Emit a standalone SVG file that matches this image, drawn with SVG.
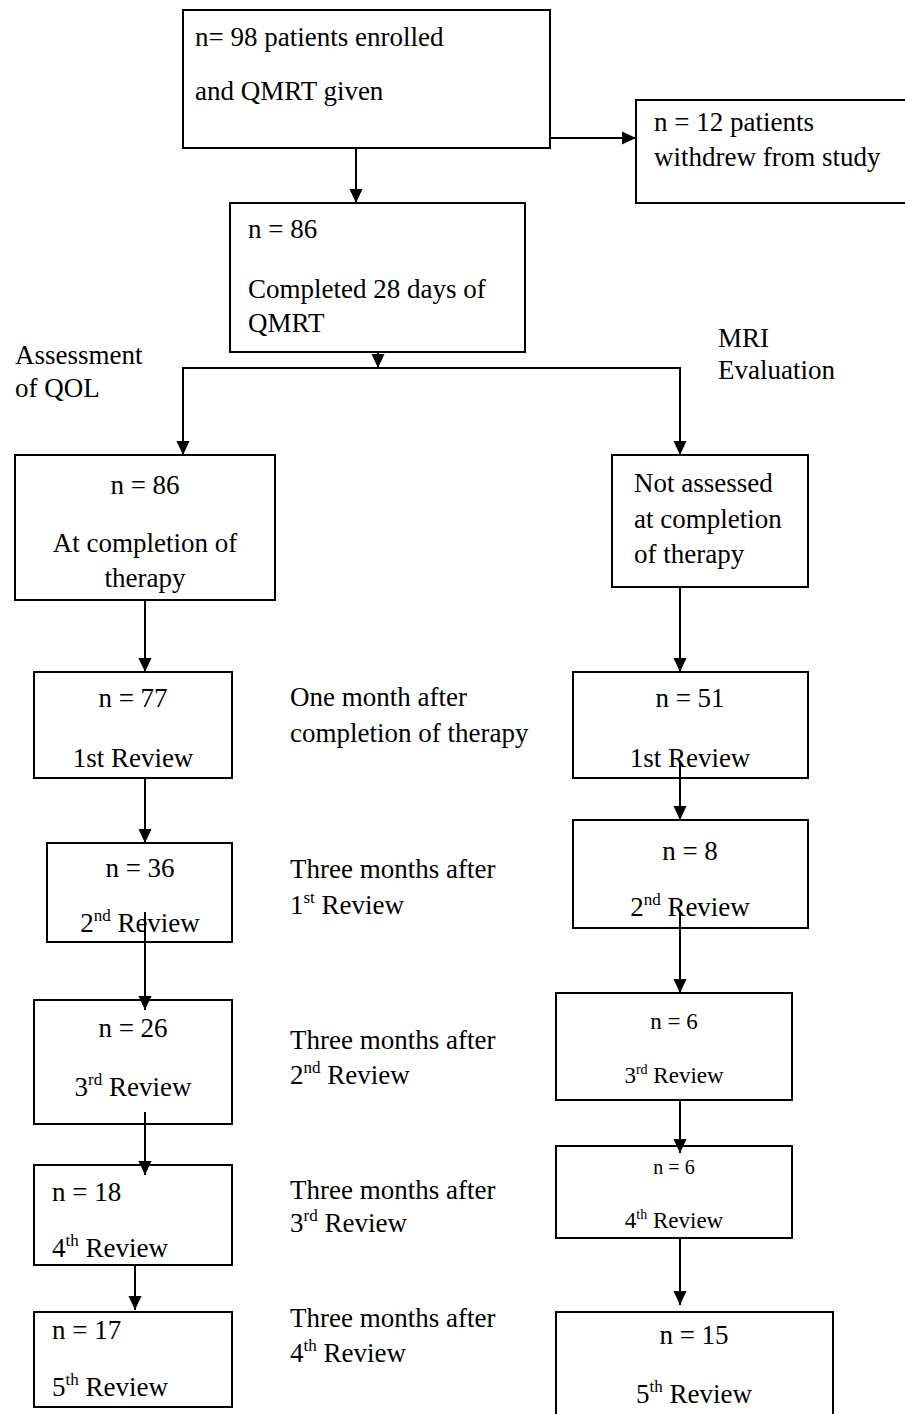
<svg xmlns="http://www.w3.org/2000/svg" width="905" height="1414" viewBox="0 0 905 1414">
<style>
.box{fill:#fff;stroke:#000;stroke-width:2}
.t{font-family:"Liberation Serif","Times New Roman",serif;font-size:27px;fill:#000}
.c{text-anchor:middle}
.sm{font-size:23px}
.ln{stroke:#000;stroke-width:2;fill:none}
</style>
<defs>
<marker id="ah" markerWidth="14" markerHeight="14" refX="15" refY="7" orient="auto" markerUnits="userSpaceOnUse" viewBox="0 0 15 14">
<path d="M0,0 L15,7 L0,14 Z" fill="#000"/>
</marker>
</defs>
<rect width="905" height="1414" fill="#fff"/>
<g id="connectors">
<line class="ln" x1="356" y1="148" x2="356" y2="203" marker-end="url(#ah)"/>
<line class="ln" x1="550" y1="138" x2="636" y2="138" marker-end="url(#ah)"/>
<line class="ln" x1="378" y1="352" x2="378" y2="368" marker-end="url(#ah)"/>
<polyline class="ln" points="183,455 183,368 680,368 680,455"/>
<line class="ln" x1="183" y1="440" x2="183" y2="455" marker-end="url(#ah)"/>
<line class="ln" x1="680" y1="440" x2="680" y2="455" marker-end="url(#ah)"/>
<line class="ln" x1="145" y1="600" x2="145" y2="672" marker-end="url(#ah)"/>
<line class="ln" x1="680" y1="587" x2="680" y2="672" marker-end="url(#ah)"/>
<line class="ln" x1="145" y1="778" x2="145" y2="843" marker-end="url(#ah)"/>
</g>
<g id="n1"><rect class="box" x="183" y="10" width="367" height="138"/>
<text class="t" x="195" y="46">n= 98 patients enrolled</text>
<text class="t" x="195" y="100">and QMRT given</text></g>
<g id="n2"><rect class="box" x="636" y="100" width="280" height="103"/>
<text class="t" x="654" y="131">n = 12 patients</text>
<text class="t" x="654" y="166">withdrew from study</text></g>
<g id="n3"><rect class="box" x="230" y="203" width="295" height="149"/>
<text class="t" x="248" y="238">n = 86</text>
<text class="t" x="248" y="298">Completed 28 days of</text>
<text class="t" x="248" y="332">QMRT</text></g>
<g id="lbl-qol"><text class="t" x="15" y="364">Assessment</text><text class="t" x="15" y="397">of QOL</text></g>
<g id="lbl-mri"><text class="t" x="718" y="347">MRI</text><text class="t" x="718" y="379">Evaluation</text></g>
<g id="n4"><rect class="box" x="15" y="455" width="260" height="145"/>
<text class="t c" x="145" y="494">n = 86</text>
<text class="t c" x="145" y="552">At completion of</text>
<text class="t c" x="145" y="587">therapy</text></g>
<g id="n5"><rect class="box" x="612" y="455" width="196" height="132"/>
<text class="t" x="634" y="492">Not assessed</text>
<text class="t" x="634" y="528">at completion</text>
<text class="t" x="634" y="563">of therapy</text></g>
<g id="n6"><rect class="box" x="34" y="672" width="198" height="106"/>
<text class="t c" x="133" y="707">n = 77</text>
<text class="t c" x="133" y="767">1st Review</text></g>
<g id="lbl1"><text class="t" x="290" y="706">One month after</text><text class="t" x="290" y="742">completion of therapy</text></g>
<g id="n7"><rect class="box" x="573" y="672" width="235" height="106"/>
<text class="t c" x="690" y="707">n = 51</text>
<text class="t c" x="690" y="767">1st Review</text></g>
<g id="n8"><rect class="box" x="47" y="843" width="185" height="99"/>
<text class="t c" x="140" y="877">n = 36</text>
<text class="t c" x="140" y="932">2<tspan font-size="17" dy="-11">nd</tspan><tspan dy="11"> Review</tspan></text></g>
<g id="lbl2"><text class="t" x="290" y="878">Three months after</text><text class="t" x="290" y="914">1<tspan font-size="17" dy="-11">st</tspan><tspan dy="11"> Review</tspan></text></g>
<g id="n9"><rect class="box" x="573" y="820" width="235" height="108"/>
<text class="t c" x="690" y="860">n = 8</text>
<text class="t c" x="690" y="916">2<tspan font-size="17" dy="-11">nd</tspan><tspan dy="11"> Review</tspan></text></g>
<g id="n10"><rect class="box" x="34" y="1000" width="198" height="124"/>
<text class="t c" x="133" y="1037">n = 26</text>
<text class="t c" x="133" y="1096">3<tspan font-size="17" dy="-11">rd</tspan><tspan dy="11"> Review</tspan></text></g>
<g id="lbl3"><text class="t" x="290" y="1049">Three months after</text><text class="t" x="290" y="1084">2<tspan font-size="17" dy="-11">nd</tspan><tspan dy="11"> Review</tspan></text></g>
<g id="n11"><rect class="box" x="556" y="993" width="236" height="107"/>
<text class="t c sm" x="674" y="1029">n = 6</text>
<text class="t c sm" x="674" y="1083">3<tspan font-size="14" dy="-9">rd</tspan><tspan dy="9"> Review</tspan></text></g>
<g id="n12"><rect class="box" x="34" y="1165" width="198" height="100"/>
<text class="t" x="52" y="1201">n = 18</text>
<text class="t" x="52" y="1257">4<tspan font-size="17" dy="-11">th</tspan><tspan dy="11"> Review</tspan></text></g>
<g id="lbl4"><text class="t" x="290" y="1199">Three months after</text><text class="t" x="290" y="1232">3<tspan font-size="17" dy="-11">rd</tspan><tspan dy="11"> Review</tspan></text></g>
<g id="n13"><rect class="box" x="556" y="1146" width="236" height="92"/>
<text class="t c" x="674" y="1174" style="font-size:20px">n = 6</text>
<text class="t c sm" x="674" y="1228">4<tspan font-size="14" dy="-9">th</tspan><tspan dy="9"> Review</tspan></text></g>
<g id="n14"><rect class="box" x="34" y="1312" width="198" height="95"/>
<text class="t" x="52" y="1339">n = 17</text>
<text class="t" x="52" y="1396">5<tspan font-size="17" dy="-11">th</tspan><tspan dy="11"> Review</tspan></text></g>
<g id="lbl5"><text class="t" x="290" y="1327">Three months after</text><text class="t" x="290" y="1362">4<tspan font-size="17" dy="-11">th</tspan><tspan dy="11"> Review</tspan></text></g>
<g id="n15"><rect class="box" x="556" y="1312" width="277" height="110"/>
<text class="t c" x="694" y="1344">n = 15</text>
<text class="t c" x="694" y="1403">5<tspan font-size="17" dy="-11">th</tspan><tspan dy="11"> Review</tspan></text></g>
<g id="connectors2">
<line class="ln" x1="680" y1="762" x2="680" y2="820" marker-end="url(#ah)"/>
<line class="ln" x1="145" y1="912" x2="145" y2="1010" marker-end="url(#ah)"/>
<line class="ln" x1="680" y1="912" x2="680" y2="993" marker-end="url(#ah)"/>
<line class="ln" x1="145" y1="1112" x2="145" y2="1175" marker-end="url(#ah)"/>
<line class="ln" x1="680" y1="1100" x2="680" y2="1153" marker-end="url(#ah)"/>
<line class="ln" x1="135" y1="1265" x2="135" y2="1310" marker-end="url(#ah)"/>
<line class="ln" x1="680" y1="1238" x2="680" y2="1305" marker-end="url(#ah)"/>
</g>
</svg>
